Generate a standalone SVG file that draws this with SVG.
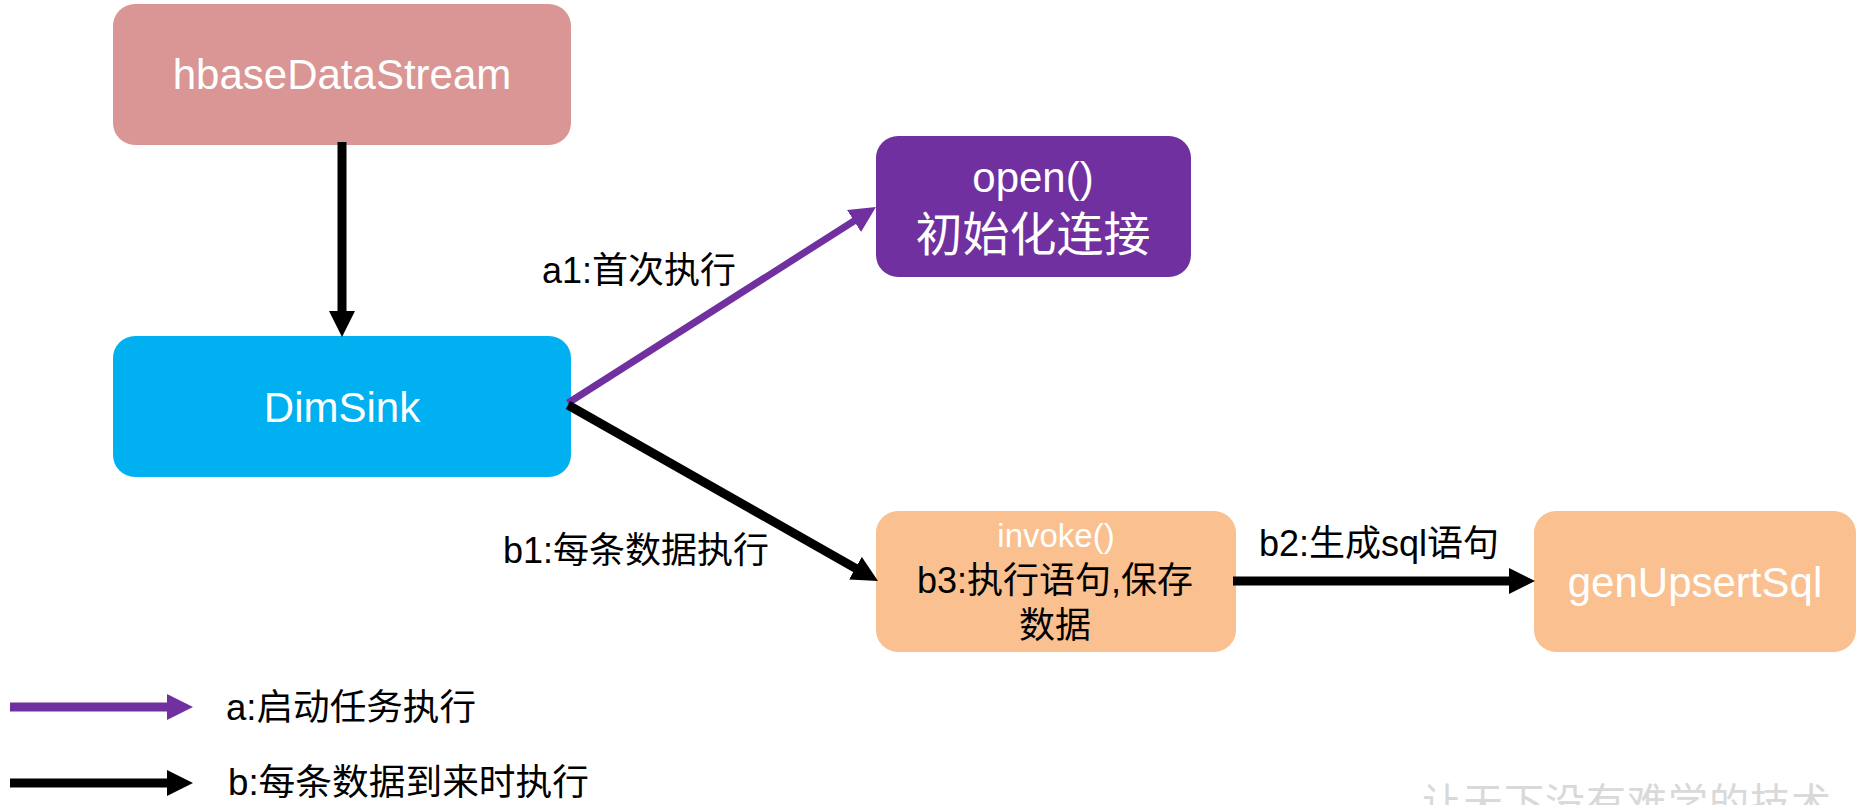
<svg xmlns="http://www.w3.org/2000/svg" width="1864" height="805" viewBox="0 0 1864 805">
  <style>
    .box { stroke: none; }
    .wt { fill: #ffffff; font-family: "Liberation Sans", "Noto Sans CJK SC", sans-serif; }
    .bt { fill: #000000; font-family: "Liberation Sans", "Noto Sans CJK SC", sans-serif; }
    .mid { text-anchor: middle; }
    .blk { stroke: #000000; fill: none; stroke-linecap: butt; }
    .pur { stroke: #7030A0; fill: none; stroke-linecap: butt; }
  </style>
  <defs>
    <marker id="headBlack" viewBox="0 0 26 26" refX="13" refY="13" markerWidth="26" markerHeight="26" markerUnits="userSpaceOnUse" orient="auto">
      <path d="M0,0 L26,13 L0,26 z" fill="#000000"/>
    </marker>
    <marker id="headPurple" viewBox="0 0 26 26" refX="13" refY="13" markerWidth="26" markerHeight="26" markerUnits="userSpaceOnUse" orient="auto">
      <path d="M0,0 L26,13 L0,26 z" fill="#7030A0"/>
    </marker>
  </defs>
  <rect width="1864" height="805" fill="#ffffff"/>

  <g id="hbaseDataStream">
    <rect class="box" x="113" y="4" width="458" height="141" rx="22" fill="#DA9694"/>
    <text class="wt mid" x="342" y="89" font-size="42">hbaseDataStream</text>
  </g>

  <g id="DimSink">
    <rect class="box" x="113" y="336" width="458" height="141" rx="22" fill="#00B0F0"/>
    <text class="wt mid" x="342" y="422" font-size="42">DimSink</text>
  </g>

  <g id="open">
    <rect class="box" x="876" y="136" width="315" height="141" rx="22" fill="#7030A0"/>
    <text class="wt mid" x="1033" y="192" font-size="42">open()</text>
    <text class="wt mid" x="1033" y="251" font-size="47">初始化连接</text>
  </g>

  <g id="invoke">
    <rect class="box" x="876" y="511" width="360" height="141" rx="22" fill="#FAC090"/>
    <text class="wt mid" x="1056" y="547" font-size="33">invoke()</text>
    <text class="bt mid" x="1055" y="593" font-size="36">b3:执行语句,保存</text>
    <text class="bt mid" x="1055" y="638" font-size="36">数据</text>
  </g>

  <g id="genUpsertSql">
    <rect class="box" x="1534" y="511" width="322" height="141" rx="22" fill="#FAC090"/>
    <text class="wt mid" x="1695" y="597" font-size="42">genUpsertSql</text>
  </g>

  <g id="connectors">
    <line class="blk" x1="342" y1="142" x2="342" y2="324" stroke-width="9" marker-end="url(#headBlack)"/>
    <line class="pur" x1="568" y1="403" x2="865" y2="214" stroke-width="7" marker-end="url(#headPurple)"/>
    <line class="blk" x1="568" y1="405" x2="866.7" y2="574.6" stroke-width="9" marker-end="url(#headBlack)"/>
    <line class="blk" x1="1233" y1="581" x2="1522" y2="581" stroke-width="9" marker-end="url(#headBlack)"/>
  </g>

  <g id="labels">
    <text class="bt" x="542" y="283" font-size="36">a1:首次执行</text>
    <text class="bt" x="503" y="563" font-size="36">b1:每条数据执行</text>
    <text class="bt" x="1259" y="556" font-size="36">b2:生成sql语句</text>
  </g>

  <g id="legend">
    <line class="pur" x1="10" y1="707" x2="180" y2="707" stroke-width="9" marker-end="url(#headPurple)"/>
    <text class="bt" x="226" y="720" font-size="36" textLength="250" lengthAdjust="spacingAndGlyphs">a:启动任务执行</text>
    <line class="blk" x1="10" y1="783" x2="180" y2="783" stroke-width="9" marker-end="url(#headBlack)"/>
    <text class="bt" x="228" y="795" font-size="36" textLength="361" lengthAdjust="spacingAndGlyphs">b:每条数据到来时执行</text>
  </g>

  <g id="watermark">
    <text x="1422" y="817" font-size="40" letter-spacing="1" fill="#D9D9D9" font-family="'Noto Sans CJK SC', sans-serif">让天下没有难学的技术</text>
  </g>
</svg>
